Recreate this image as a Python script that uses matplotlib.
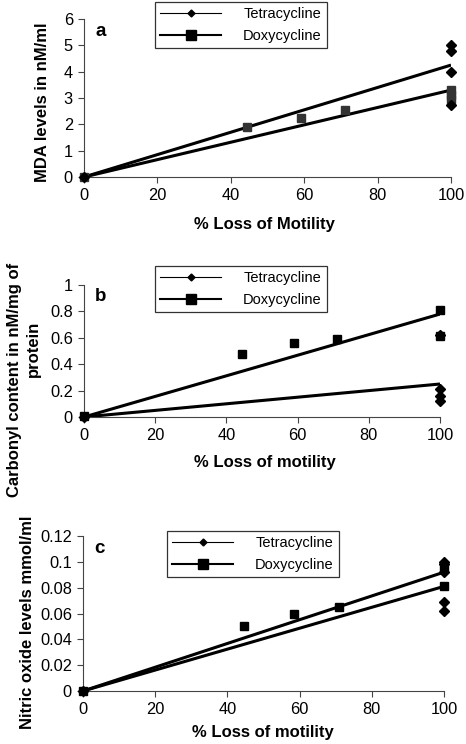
import numpy as np
import matplotlib
matplotlib.use("Agg")
import matplotlib.pyplot as plt
from matplotlib.lines import Line2D

plt.rcParams['font.family'] = ['Liberation Sans', 'DejaVu Sans']

# panel a: MDA
a_tet_x = [0, 100, 100, 100, 100]
a_tet_y = [0, 5.0, 4.8, 4.0, 2.75]
a_dox_x = [0, 44.5, 59, 71, 100, 100, 100]
a_dox_y = [0, 1.9, 2.25, 2.55, 3.3, 3.1, 2.95]
a_fit = {'tet': 4.25, 'dox': 3.3}

# panel b: carbonyl
b_tet_x = [0, 100, 100, 100, 100]
b_tet_y = [0, 0.62, 0.21, 0.16, 0.12]
b_dox_x = [0, 44.5, 59, 71, 100, 100]
b_dox_y = [0.01, 0.48, 0.56, 0.59, 0.81, 0.61]
b_fit = {'tet': 0.25, 'dox': 0.78}

# panel c: nitric oxide
c_tet_x = [0, 100, 100, 100, 100, 100]
c_tet_y = [0, 0.1, 0.098, 0.092, 0.069, 0.062]
c_dox_x = [0, 44.5, 58.5, 71, 100, 100]
c_dox_y = [0, 0.05, 0.06, 0.065, 0.081, 0.096]
c_fit = {'tet': 0.092, 'dox': 0.081}

W, H = 466, 744
fig = plt.figure(figsize=(W / 100, H / 100), dpi=100)


def px(x, y):
    # pixel position (from top-left) -> figure fraction
    return x / W, 1 - y / H


def panel(box, tx, ty, dx, dy, fit, ylim, yticks, yticklabels, letter,
          leg_xy, sq_color='k'):
    l, t, r, b = box
    ax = fig.add_axes([l / W, 1 - b / H, (r - l) / W, (b - t) / H])
    ax.plot([0, 100], [0, fit['tet']], color='k', lw=2.2, solid_capstyle='butt')
    ax.plot([0, 100], [0, fit['dox']], color='k', lw=2.2, solid_capstyle='butt')
    ax.plot(dx, dy, ls='none', marker='s', ms=6.3, color=sq_color, clip_on=False, zorder=3)
    ax.plot(tx, ty, ls='none', marker='D', ms=5.2, color='k', clip_on=False, zorder=4)
    ax.set_xlim(0, 100)
    ax.set_ylim(*ylim)
    ax.set_xticks([0, 20, 40, 60, 80, 100])
    ax.set_yticks(yticks)
    ax.set_yticklabels(yticklabels)
    for s in ['top', 'right']:
        ax.spines[s].set_visible(False)
    for s in ['left', 'bottom']:
        ax.spines[s].set_linewidth(0.8)
        ax.spines[s].set_color('#444444')
    ax.tick_params(labelsize=11.8, length=4, width=0.8, color='#444444', pad=4)
    ax.text(0.03, 0.975, letter, transform=ax.transAxes, fontsize=13.5,
            fontweight='bold', va='top', ha='left')
    handles = [Line2D([], [], color='k', lw=0.8, marker='D', ms=3.5),
               Line2D([], [], color='k', lw=1.5, marker='s', ms=7)]
    leg = fig.legend(handles, ['Tetracycline', 'Doxycycline'],
                     loc='upper left', bbox_to_anchor=px(*leg_xy),
                     bbox_transform=fig.transFigure, fontsize=10.5,
                     frameon=True, fancybox=False, edgecolor='k',
                     handlelength=4.2, handletextpad=1.5, borderpad=0.35,
                     labelspacing=0.55, borderaxespad=0)
    leg.get_frame().set_linewidth(0.9)
    return ax


lab = dict(fontsize=12, fontweight='bold', ha='center', va='center')

panel((84, 19, 451, 177), a_tet_x, a_tet_y, a_dox_x, a_dox_y, a_fit, (0, 6),
      [0, 1, 2, 3, 4, 5, 6], ['0', '1', '2', '3', '4', '5', '6'], 'a',
      (155, 2), sq_color='#333333')
fig.text(*px(43, 102), 'MDA levels in nM/ml', rotation=90, **lab)
fig.text(*px(264, 224), '% Loss of Motility', **lab)

panel((84, 285, 440, 417), b_tet_x, b_tet_y, b_dox_x, b_dox_y, b_fit, (0, 1),
      [0, 0.2, 0.4, 0.6, 0.8, 1], ['0', '0.2', '0.4', '0.6', '0.8', '1'], 'b',
      (155, 266))
fig.text(*px(15, 380), 'Carbonyl content in nM/mg of', rotation=90, **lab)
fig.text(*px(33, 349), 'protein', rotation=90, **lab)
fig.text(*px(265, 462), '% Loss of motility', **lab)

panel((83, 536, 444, 691), c_tet_x, c_tet_y, c_dox_x, c_dox_y, c_fit, (0, 0.12),
      [0, 0.02, 0.04, 0.06, 0.08, 0.1, 0.12],
      ['0', '0.02', '0.04', '0.06', '0.08', '0.1', '0.12'], 'c',
      (167, 531))
fig.text(*px(28, 622), 'Nitric oxide levels mmol/ml', rotation=90, **lab)
fig.text(*px(263, 733), '% Loss of motility', **lab)

fig.savefig('out.png', dpi=100)
